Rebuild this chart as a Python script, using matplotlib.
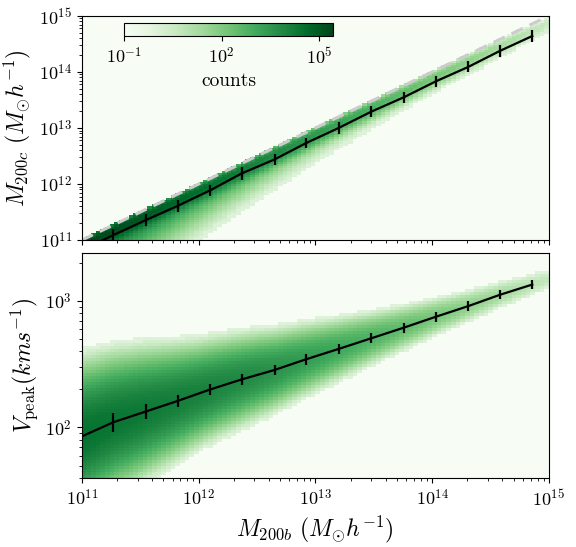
import numpy as np
import matplotlib
matplotlib.use('Agg')
from matplotlib import pyplot as plt
from matplotlib.colors import LogNorm
from matplotlib.ticker import FuncFormatter, NullFormatter

plt.rcParams['font.family'] = 'serif'
plt.rcParams['font.serif'] = ['cmr10', 'DejaVu Serif']
plt.rcParams['mathtext.fontset'] = 'cm'
plt.rcParams['axes.unicode_minus'] = False

# binned means (M200b) with error bars
m200b_pts = [1.86e11, 3.55e11, 6.6e11, 1.26e12, 2.34e12, 4.47e12, 8.3e12,
             1.58e13, 3.0e13, 5.75e13, 1.07e14, 2.04e14, 3.8e14, 7.2e14]
m200c_pts = [1.23e11, 2.29e11, 4.07e11, 7.76e11, 1.55e12, 2.75e12, 5.37e12,
             1.0e13, 1.95e13, 3.55e13, 6.76e13, 1.23e14, 2.37e14, 4.37e14]
m200c_err_dex = [0.10, 0.11, 0.10, 0.095, 0.11, 0.10, 0.095,
                 0.10, 0.10, 0.10, 0.10, 0.10, 0.10, 0.10]
vpeak_pts = [110, 134, 162, 200, 240, 285, 346, 418, 507, 617, 750, 912, 1120, 1350]
vpeak_err_dex = [0.076, 0.059, 0.046, 0.046, 0.045, 0.043, 0.042,
                 0.04, 0.04, 0.04, 0.04, 0.038, 0.036, 0.033]
# line continues to the left edge
line_start_m200b = 1e11
line_start_m200c = 6.6e10
line_start_vpeak = 85

# 2d histogram description (log10 M200b anchors)
dens_logm = [11.0, 11.5, 12.0, 12.5, 13.0, 13.5, 14.0, 14.5, 15.0]
top_peak = [3e5, 1.2e5, 4e4, 1.2e4, 3e3, 7e2, 1.5e2, 3e1, 4]
top_ridge_off = [-0.10, -0.11, -0.12, -0.12, -0.12, -0.12, -0.12, -0.12, -0.12]
top_tau_lo = [0.10, 0.10, 0.09, 0.08, 0.07, 0.065, 0.06, 0.06, 0.06]
bot_peak = [3e4, 2e4, 1.2e4, 6e3, 2e3, 6e2, 1.5e2, 3e1, 5]
bot_sigma = [0.15, 0.13, 0.105, 0.09, 0.075, 0.06, 0.048, 0.04, 0.035]

vmin, vmax = 0.1, 2.6e5


def to_counts(c):
    c = np.where(c < 0.5, 0, np.round(c))
    return np.where(c <= 0, vmin, c)


xe = np.linspace(11, 15, 101)
xc = 0.5 * (xe[1:] + xe[:-1])

# top panel grid
ye_top = np.linspace(11, 15, 101)
yc_top = 0.5 * (ye_top[1:] + ye_top[:-1])
X, Y = np.meshgrid(xc, yc_top)
mu = X + np.interp(X, dens_logm, top_ridge_off)
d = Y - mu
tau = np.interp(X, dens_logm, top_tau_lo)
f = np.where(d > 0, np.exp(-0.5 * (d / 0.05) ** 2),
             0.7 * np.exp(-0.5 * (d / 0.08) ** 2) + 0.3 * np.exp(np.minimum(d, 0) / tau))
f = np.where(Y - X > 0.01, 0, f)
top_counts = to_counts(10 ** np.interp(X, dens_logm, np.log10(top_peak)) * f)

# bottom panel grid
ye_bot = np.linspace(1.6, 3.38, 76)
yc_bot = 0.5 * (ye_bot[1:] + ye_bot[:-1])
X, Y = np.meshgrid(xc, yc_bot)
lx = np.log10([line_start_m200b] + m200b_pts)
lv = np.log10([line_start_vpeak] + vpeak_pts)
ridge = np.interp(X, lx, lv)
ridge = np.where(X > lx[-1], lv[-1] + (X - lx[-1]) * 0.3, ridge)
d = Y - ridge
s = np.interp(X, dens_logm, bot_sigma)
f = np.exp(-0.5 * (d / s) ** 2)
bot_counts = to_counts(10 ** np.interp(X, dens_logm, np.log10(bot_peak)) * f)

fig = plt.figure(figsize=(5.76, 5.47), dpi=100)
ax1 = fig.add_axes([0.142, 0.561, 0.811, 0.410])
ax2 = fig.add_axes([0.142, 0.126, 0.811, 0.4115])

norm = LogNorm(vmin=vmin, vmax=vmax)
mesh = ax1.pcolormesh(10 ** xe, 10 ** ye_top, top_counts, cmap='Greens', norm=norm)
ax2.pcolormesh(10 ** xe, 10 ** ye_bot, bot_counts, cmap='Greens', norm=norm)

ax1.plot([1e11, 1e15], [1e11, 1e15], ls='--', color='#cccccc', lw=2.2, dashes=(4, 2.5))

yerr_lo = [y - y * 10 ** -e for y, e in zip(m200c_pts, m200c_err_dex)]
yerr_hi = [y * 10 ** e - y for y, e in zip(m200c_pts, m200c_err_dex)]
ax1.plot([line_start_m200b] + m200b_pts, [line_start_m200c] + m200c_pts, color='k', lw=1.6)
ax1.errorbar(m200b_pts, m200c_pts, yerr=[yerr_lo, yerr_hi], fmt='none', ecolor='k',
             elinewidth=1.6, capsize=0)

verr_lo = [y - y * 10 ** -e for y, e in zip(vpeak_pts, vpeak_err_dex)]
verr_hi = [y * 10 ** e - y for y, e in zip(vpeak_pts, vpeak_err_dex)]
ax2.plot([line_start_m200b] + m200b_pts, [line_start_vpeak] + vpeak_pts, color='k', lw=1.6)
ax2.errorbar(m200b_pts, vpeak_pts, yerr=[verr_lo, verr_hi], fmt='none', ecolor='k',
             elinewidth=1.6, capsize=0)

fmt = FuncFormatter(lambda v, p: r'$10^{%d}$' % round(np.log10(v)))
for ax in (ax1, ax2):
    ax.set_xscale('log')
    ax.set_yscale('log')
    ax.set_xlim(1e11, 1e15)
    ax.tick_params(labelsize=13)
    ax.xaxis.set_major_formatter(fmt)
    ax.yaxis.set_major_formatter(fmt)
    ax.xaxis.set_minor_formatter(NullFormatter())
    ax.yaxis.set_minor_formatter(NullFormatter())

ax1.set_ylim(1e11, 1e15)
ax2.set_ylim(10 ** 1.6, 10 ** 3.38)
ax1.tick_params(axis='x', labelbottom=False)

ax1.set_ylabel(r'$M_{200c}\ (M_{\odot} h^{-1})$', fontsize=17)
ax2.set_ylabel(r'$V_{\rm peak} (kms^{-1})$', fontsize=17)
ax2.set_xlabel(r'$M_{200b}\ (M_{\odot} h^{-1})$', fontsize=17)

cax = fig.add_axes([0.215, 0.934, 0.363, 0.0238])
cbar = fig.colorbar(mesh, cax=cax, orientation='horizontal', ticks=[0.1, 100, 1e5])
cbar.minorticks_off()
cbar.ax.xaxis.set_major_formatter(fmt)
cbar.ax.tick_params(labelsize=13)
cbar.set_label('counts', fontsize=14)

fig.savefig('out.png', dpi=100)
